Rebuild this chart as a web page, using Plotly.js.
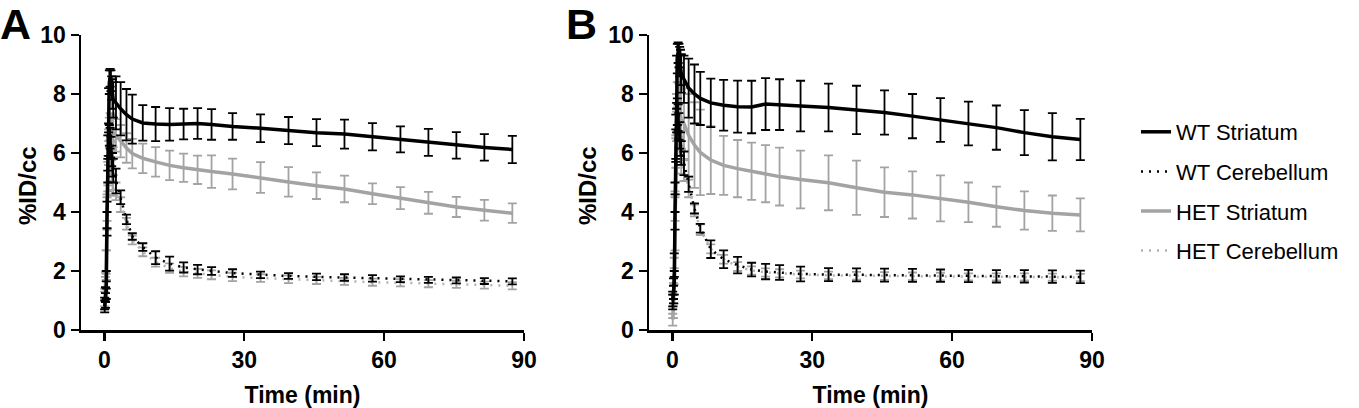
<!DOCTYPE html>
<html>
<head>
<meta charset="utf-8">
<script src="https://cdn.plot.ly/plotly-3.0.1.min.js"></script>
<style>
html,body{margin:0;padding:0;background:#fff;}
#chart{width:1359px;height:408px;}
</style>
</head>
<body>
<div id="chart"></div>
<script>
// Frame mid-times (min)
const time = [0.083, 0.25, 0.42, 0.58, 0.75, 0.92, 1.08, 1.25, 1.42, 1.58, 1.75, 1.92,
  2.5, 3.5, 4.75, 6, 8.25, 11, 14, 17, 20, 23, 27.5, 33.5, 39.5, 45.5, 51.5, 57.5, 63.5, 69.5, 75.5, 81.5, 87.5];

const seriesNames = ["WT Striatum", "WT Cerebellum", "HET Striatum", "HET Cerebellum"];
const xTicks = [0, 30, 60, 90];
const yTicks = [0, 2, 4, 6, 8, 10];
const xTitle = 'Time (min)';
const yTitle = '%ID/cc';
const panelLabels = ['A', 'B'];

// Panel A
const wtStrA = [0.8, 1.0, 1.35, 3.9, 6.0, 7.6, 8.4, 8.55, 8.45, 8.2, 8.0, 7.8,
  7.7, 7.5, 7.3, 7.15, 7.02, 6.98, 6.97, 6.98, 7.0, 6.97, 6.9, 6.84, 6.76, 6.69, 6.64, 6.55, 6.46, 6.36, 6.26, 6.19, 6.12];
const wtStrA_sd = [0.2, 0.25, 0.3, 0.45, 0.6, 0.6, 0.4, 0.3, 0.35, 0.4, 0.5, 0.6,
  0.9, 0.9, 0.87, 0.83, 0.6, 0.58, 0.55, 0.52, 0.52, 0.52, 0.45, 0.47, 0.46, 0.46, 0.49, 0.46, 0.44, 0.46, 0.45, 0.45, 0.46];
const wtCerA = [0.9, 1.2, 1.7, 3.6, 5.4, 6.3, 6.6, 6.5, 6.2, 5.9, 5.6, 5.4,
  5.05, 4.5, 3.75, 3.17, 2.81, 2.45, 2.25, 2.12, 2.05, 2.0, 1.93, 1.87, 1.83, 1.8, 1.78, 1.75, 1.72, 1.7, 1.68, 1.66, 1.65];
const wtCerA_sd = [0.2, 0.25, 0.3, 0.4, 0.4, 0.4, 0.35, 0.35, 0.35, 0.35, 0.4, 0.4,
  0.42, 0.23, 0.16, 0.11, 0.13, 0.22, 0.24, 0.17, 0.16, 0.13, 0.13, 0.11, 0.1, 0.11, 0.11, 0.11, 0.1, 0.1, 0.1, 0.1, 0.1];
const hetStrA = [1.0, 1.4, 2.2, 4.0, 5.3, 6.2, 6.7, 6.9, 6.85, 6.8, 6.75, 6.7,
  6.6, 6.4, 6.17, 5.98, 5.82, 5.7, 5.58, 5.5, 5.43, 5.37, 5.29, 5.17, 5.02, 4.89, 4.78, 4.62, 4.47, 4.31, 4.17, 4.06, 3.96];
const hetStrA_sd = [0.3, 0.4, 0.5, 0.6, 0.6, 0.6, 0.5, 0.45, 0.45, 0.45, 0.5, 0.5,
  0.55, 0.55, 0.5, 0.5, 0.5, 0.5, 0.5, 0.48, 0.48, 0.55, 0.52, 0.52, 0.5, 0.45, 0.45, 0.35, 0.37, 0.37, 0.34, 0.35, 0.33];
const hetCerA = [1.1, 1.6, 2.3, 4.1, 5.3, 6.0, 6.2, 6.0, 5.7, 5.4, 5.1, 4.9,
  4.7, 4.25, 3.6, 3.05, 2.65, 2.3, 2.1, 1.98, 1.92, 1.87, 1.8, 1.76, 1.72, 1.68, 1.65, 1.62, 1.6, 1.57, 1.55, 1.52, 1.5];
const hetCerA_sd = [0.3, 0.35, 0.4, 0.4, 0.4, 0.4, 0.4, 0.4, 0.4, 0.35, 0.35, 0.35,
  0.3, 0.25, 0.2, 0.15, 0.15, 0.15, 0.16, 0.16, 0.15, 0.15, 0.14, 0.13, 0.13, 0.12, 0.12, 0.12, 0.12, 0.12, 0.12, 0.12, 0.12];

// Panel B
const wtStrB = [1.0, 1.2, 1.6, 4.0, 6.5, 8.4, 9.2, 9.4, 9.3, 9.1, 8.9, 8.7,
  8.5, 8.2, 8.0, 7.85, 7.7, 7.62, 7.57, 7.56, 7.66, 7.64, 7.59, 7.54, 7.46, 7.37, 7.25, 7.12, 7.0, 6.86, 6.69, 6.55, 6.46];
const wtStrB_sd = [0.2, 0.3, 0.4, 0.6, 0.8, 0.9, 0.5, 0.35, 0.4, 0.5, 0.6, 0.65,
  0.8, 1.0, 1.0, 0.9, 0.82, 0.86, 0.88, 0.89, 0.88, 0.86, 0.86, 0.81, 0.82, 0.75, 0.75, 0.74, 0.74, 0.75, 0.76, 0.8, 0.7];
const wtCerB = [1.0, 1.4, 2.2, 4.5, 6.3, 7.2, 7.4, 7.2, 6.9, 6.6, 6.3, 6.0,
  5.65, 4.94, 4.12, 3.45, 2.74, 2.4, 2.2, 2.05, 1.98, 1.95, 1.9, 1.88, 1.87, 1.86, 1.85, 1.84, 1.83, 1.82, 1.82, 1.81, 1.8];
const wtCerB_sd = [0.3, 0.35, 0.4, 0.5, 0.5, 0.5, 0.45, 0.45, 0.45, 0.45, 0.4, 0.4,
  0.4, 0.26, 0.17, 0.15, 0.3, 0.3, 0.28, 0.23, 0.26, 0.25, 0.25, 0.22, 0.22, 0.22, 0.22, 0.21, 0.21, 0.21, 0.21, 0.21, 0.21];
const hetStrB = [0.35, 0.8, 1.5, 3.6, 5.6, 6.9, 7.4, 7.5, 7.45, 7.35, 7.25, 7.15,
  7.0, 6.6, 6.27, 6.02, 5.76, 5.58, 5.47, 5.38, 5.3, 5.2, 5.1, 4.99, 4.82, 4.67, 4.58, 4.46, 4.33, 4.18, 4.05, 3.96, 3.9];
const hetStrB_sd = [0.2, 0.4, 0.6, 0.9, 1.0, 1.1, 1.0, 0.9, 0.9, 0.9, 1.0, 1.0,
  1.2, 1.4, 1.45, 1.45, 1.15, 1.0, 0.97, 0.97, 0.97, 0.98, 0.98, 0.93, 0.92, 0.84, 0.8, 0.78, 0.67, 0.68, 0.65, 0.6, 0.56];
const hetCerB = [0.8, 1.2, 2.0, 4.2, 6.0, 6.9, 7.1, 6.9, 6.6, 6.3, 6.0, 5.7,
  5.4, 4.8, 4.05, 3.4, 2.75, 2.4, 2.15, 2.02, 1.95, 1.92, 1.88, 1.85, 1.84, 1.83, 1.82, 1.81, 1.8, 1.8, 1.8, 1.79, 1.78];
const hetCerB_sd = [0.4, 0.4, 0.45, 0.5, 0.5, 0.5, 0.45, 0.45, 0.45, 0.4, 0.4, 0.4,
  0.35, 0.3, 0.2, 0.18, 0.15, 0.15, 0.15, 0.14, 0.14, 0.14, 0.13, 0.13, 0.13, 0.13, 0.13, 0.13, 0.12, 0.12, 0.12, 0.12, 0.12];

const BLACK = '#000000';
const GREY = '#a3a3a3';
const GREY_DOT = '#b3b3b3';
const FONT = 'Liberation Sans, Arial, Helvetica, sans-serif';

function mk(name, y, sd, xa, ya, color, dash, width, errColor, rank, showLeg) {
  return {
    type: 'scatter', mode: 'lines', name: name, x: time, y: y,
    xaxis: xa, yaxis: ya,
    line: {color: color, width: width, dash: dash},
    error_y: {type: 'data', array: sd, visible: true, color: errColor, thickness: 1.8, width: 4.5},
    legendgroup: name, legendrank: rank, showlegend: showLeg
  };
}

const traces = [
  mk(seriesNames[3], hetCerA, hetCerA_sd, 'x', 'y', GREY_DOT, '2px,6px', 2.5, GREY, 4, true),
  mk(seriesNames[2], hetStrA, hetStrA_sd, 'x', 'y', GREY, 'solid', 3.5, GREY, 3, true),
  mk(seriesNames[1], wtCerA, wtCerA_sd, 'x', 'y', BLACK, '2px,6px', 2.5, BLACK, 2, true),
  mk(seriesNames[0], wtStrA, wtStrA_sd, 'x', 'y', BLACK, 'solid', 3.5, BLACK, 1, true),
  mk(seriesNames[3], hetCerB, hetCerB_sd, 'x2', 'y2', GREY_DOT, '2px,6px', 2.5, GREY, 4, false),
  mk(seriesNames[2], hetStrB, hetStrB_sd, 'x2', 'y2', GREY, 'solid', 3.5, GREY, 3, false),
  mk(seriesNames[1], wtCerB, wtCerB_sd, 'x2', 'y2', BLACK, '2px,6px', 2.5, BLACK, 2, false),
  mk(seriesNames[0], wtStrB, wtStrB_sd, 'x2', 'y2', BLACK, 'solid', 3.5, BLACK, 1, false)
];

const W = 1359;
const PH = 295; // plot-area height in px (408 - 35 - 78)
function xAxis(d0, d1, anchor) {
  return {
    domain: [d0 / W, d1 / W], anchor: anchor, range: [-5, 90],
    tickvals: xTicks, ticktext: xTicks.map(String),
    ticks: 'outside', ticklen: 8, tickwidth: 2.5, tickcolor: BLACK,
    showline: true, linewidth: 2.5, linecolor: BLACK,
    showgrid: false, zeroline: false, automargin: false,
    tickfont: {family: FONT, size: 23, color: BLACK, weight: 'bold'},
    title: {text: xTitle, font: {family: FONT, size: 23, color: BLACK, weight: 'bold'}}
  };
}
function yAxis(anchor) {
  return {
    domain: [0, 1], anchor: anchor, range: [0, 10],
    tickvals: yTicks, ticktext: yTicks.map(String),
    ticks: 'outside', ticklen: 8, tickwidth: 2.5, tickcolor: BLACK,
    showline: true, linewidth: 2.5, linecolor: BLACK,
    showgrid: false, zeroline: false, automargin: false,
    tickfont: {family: FONT, size: 23, color: BLACK, weight: 'bold'}
  };
}
function yTitleAnn(px) {
  return {text: '<b>' + yTitle + '</b>', xref: 'paper', yref: 'paper', x: px / W, y: (330 - 186) / PH,
    xanchor: 'center', yanchor: 'middle', textangle: -90, showarrow: false,
    font: {family: FONT, size: 24, color: BLACK}};
}
function letterAnn(label, px) {
  return {text: '<b>' + label + '</b>', xref: 'paper', yref: 'paper', x: px / W, y: (330 + 2) / PH,
    xanchor: 'left', yanchor: 'top', showarrow: false, font: {family: FONT, size: 43, color: BLACK}};
}

const layout = {
  width: 1359, height: 408,
  margin: {l: 0, r: 0, t: 35, b: 78, pad: 0},
  paper_bgcolor: '#ffffff', plot_bgcolor: '#ffffff',
  font: {family: FONT, color: BLACK},
  xaxis: xAxis(81, 524, 'y'),
  yaxis: yAxis('x'),
  xaxis2: xAxis(649, 1092, 'y2'),
  yaxis2: yAxis('x2'),
  showlegend: true,
  legend: {
    x: 1136 / W, xanchor: 'left', y: (330 - 111) / PH, yanchor: 'top',
    traceorder: 'grouped', tracegroupgap: 8,
    font: {family: FONT, size: 22, color: BLACK},
    bgcolor: 'rgba(0,0,0,0)', borderwidth: 0
  },
  annotations: [
    letterAnn(panelLabels[0], -2), letterAnn(panelLabels[1], 564),
    yTitleAnn(28), yTitleAnn(588)
  ]
};

Plotly.newPlot('chart', traces, layout, {displayModeBar: false, staticPlot: true});
</script>
</body>
</html>
